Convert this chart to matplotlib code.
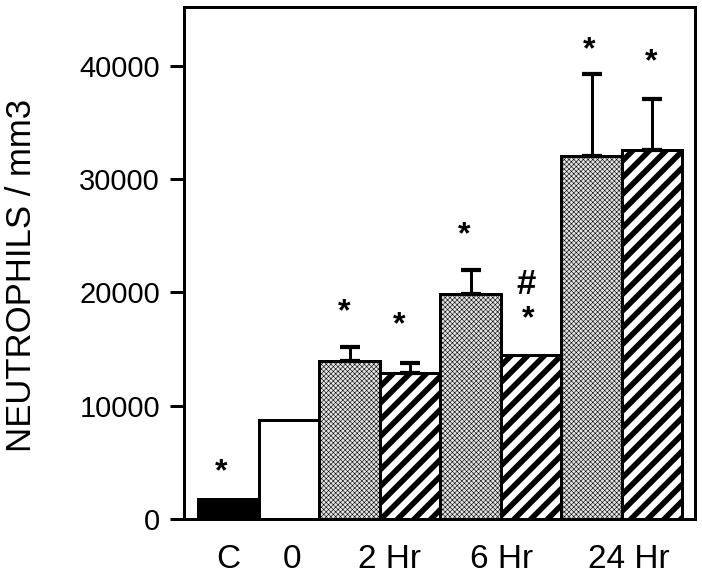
import matplotlib
matplotlib.use("Agg")
import matplotlib.pyplot as plt
import matplotlib.transforms as mtransforms
import numpy as np

# ---- data ----
bar_names = ["C", "0", "2 Hr A", "2 Hr B", "6 Hr A", "6 Hr B", "24 Hr A", "24 Hr B"]
values = [1800, 8700, 13950, 12860, 19840, 14480, 32050, 32580]
errors = [0, 0, 1210, 890, 2150, 0, 7240, 4480]
fills = ["solid", "open", "stipple", "stripe", "stipple", "stripe", "stipple", "stripe"]
group_labels = ["C", "0", "2 Hr", "6 Hr", "24 Hr"]
group_members = [[0], [1], [2, 3], [4, 5], [6, 7]]
marks = [(0, "*"), (2, "*"), (3, "*"), (4, "*"), (5, "*"), (5, "#"), (6, "*"), (7, "*")]
y_ticks = [0, 10000, 20000, 30000, 40000]
y_label = "NEUTROPHILS / mm3"

# ---- style / layout (pixels) ----
mark_offsets_px = [(-7.8, 37), (-5.8, 45.6), (-11, 48.3), (-6.8, 45),
                   (-3, 45.7), (-5.5, 72.2), (-2.6, 34), (-1, 47.6)]
label_shift_px = [0, 3, 10, 1, 7]

DPI = 100
PX = 72.0 / DPI  # points per pixel
plt.rcParams["font.family"] = ["Liberation Sans", "DejaVu Sans"]

fig = plt.figure(figsize=(7.02, 5.77), dpi=DPI)
ax = fig.add_axes([184 / 702, 1 - 519 / 577, (695 - 184) / 702, (519 - 7.3) / 577])

x = np.arange(len(values))
lw = 3 * PX
for xi, v, f in zip(x, values, fills):
    if f == "solid":
        b = ax.bar(xi, v, width=1.0, color="black", edgecolor="black", linewidth=lw)
    elif f == "open":
        b = ax.bar(xi, v, width=1.0, color="white", edgecolor="black", linewidth=lw)
    elif f == "stipple":
        b = ax.bar(xi, v, width=1.0, color="#e4e4e4", edgecolor="black",
                   linewidth=lw, hatch="xxxxxxx")
        for p in b:
            if hasattr(p, "set_hatch_linewidth"):
                p.set_hatch_linewidth(0.4)
    else:
        b = ax.bar(xi, v, width=1.0, color="white", edgecolor="black",
                   linewidth=lw, hatch="//")
        for p in b:
            if hasattr(p, "set_hatch_linewidth"):
                p.set_hatch_linewidth(5.6 * PX)

errs = np.array(errors)
sel = errs > 0
vals = np.array(values)
ax.errorbar(x[sel], vals[sel], yerr=[np.zeros(sel.sum()), errs[sel]], fmt="none",
            ecolor="black", elinewidth=3 * PX, capsize=9.6 * PX, capthick=4.2 * PX,
            zorder=3)

fs_mark = 23
for (i, s), (dx, dy) in zip(marks, mark_offsets_px):
    top = values[i] + errors[i]
    c = 0.575 if s == "*" else 0.345
    ax.annotate(s, xy=(x[i], top), xytext=(dx * PX, dy * PX - c * fs_mark),
                textcoords="offset points", ha="center", va="baseline",
                fontsize=fs_mark if s == "*" else 25, fontweight="bold",
                color="black")

ax.set_xlim(-0.5 - (198.3 - 184) / 60.5, 7.5 + (695 - 682.3) / 60.5)
ax.set_ylim(0, 45180)

ax.set_yticks(y_ticks)
ax.set_yticklabels([str(t) for t in y_ticks], fontsize=21)
ax.tick_params(axis="y", direction="out", length=14 * PX, width=3 * PX, pad=10 * PX)

gpos = [np.mean([x[m] for m in ms]) for ms in group_members]
ax.set_xticks(gpos)
ax.set_xticklabels(group_labels, fontsize=24)
ax.tick_params(axis="x", length=0, pad=25 * PX)
for lab, sh in zip(ax.get_xticklabels(), label_shift_px):
    lab.set_transform(lab.get_transform() +
                      mtransforms.ScaledTranslation(sh / DPI, 0, fig.dpi_scale_trans))

for sp in ax.spines.values():
    sp.set_linewidth(3 * PX)

fig.text(22 / 702, 1 - 275 / 577, y_label, rotation=90, ha="center", va="center",
         fontsize=25)

fig.savefig("out.png", dpi=DPI)
